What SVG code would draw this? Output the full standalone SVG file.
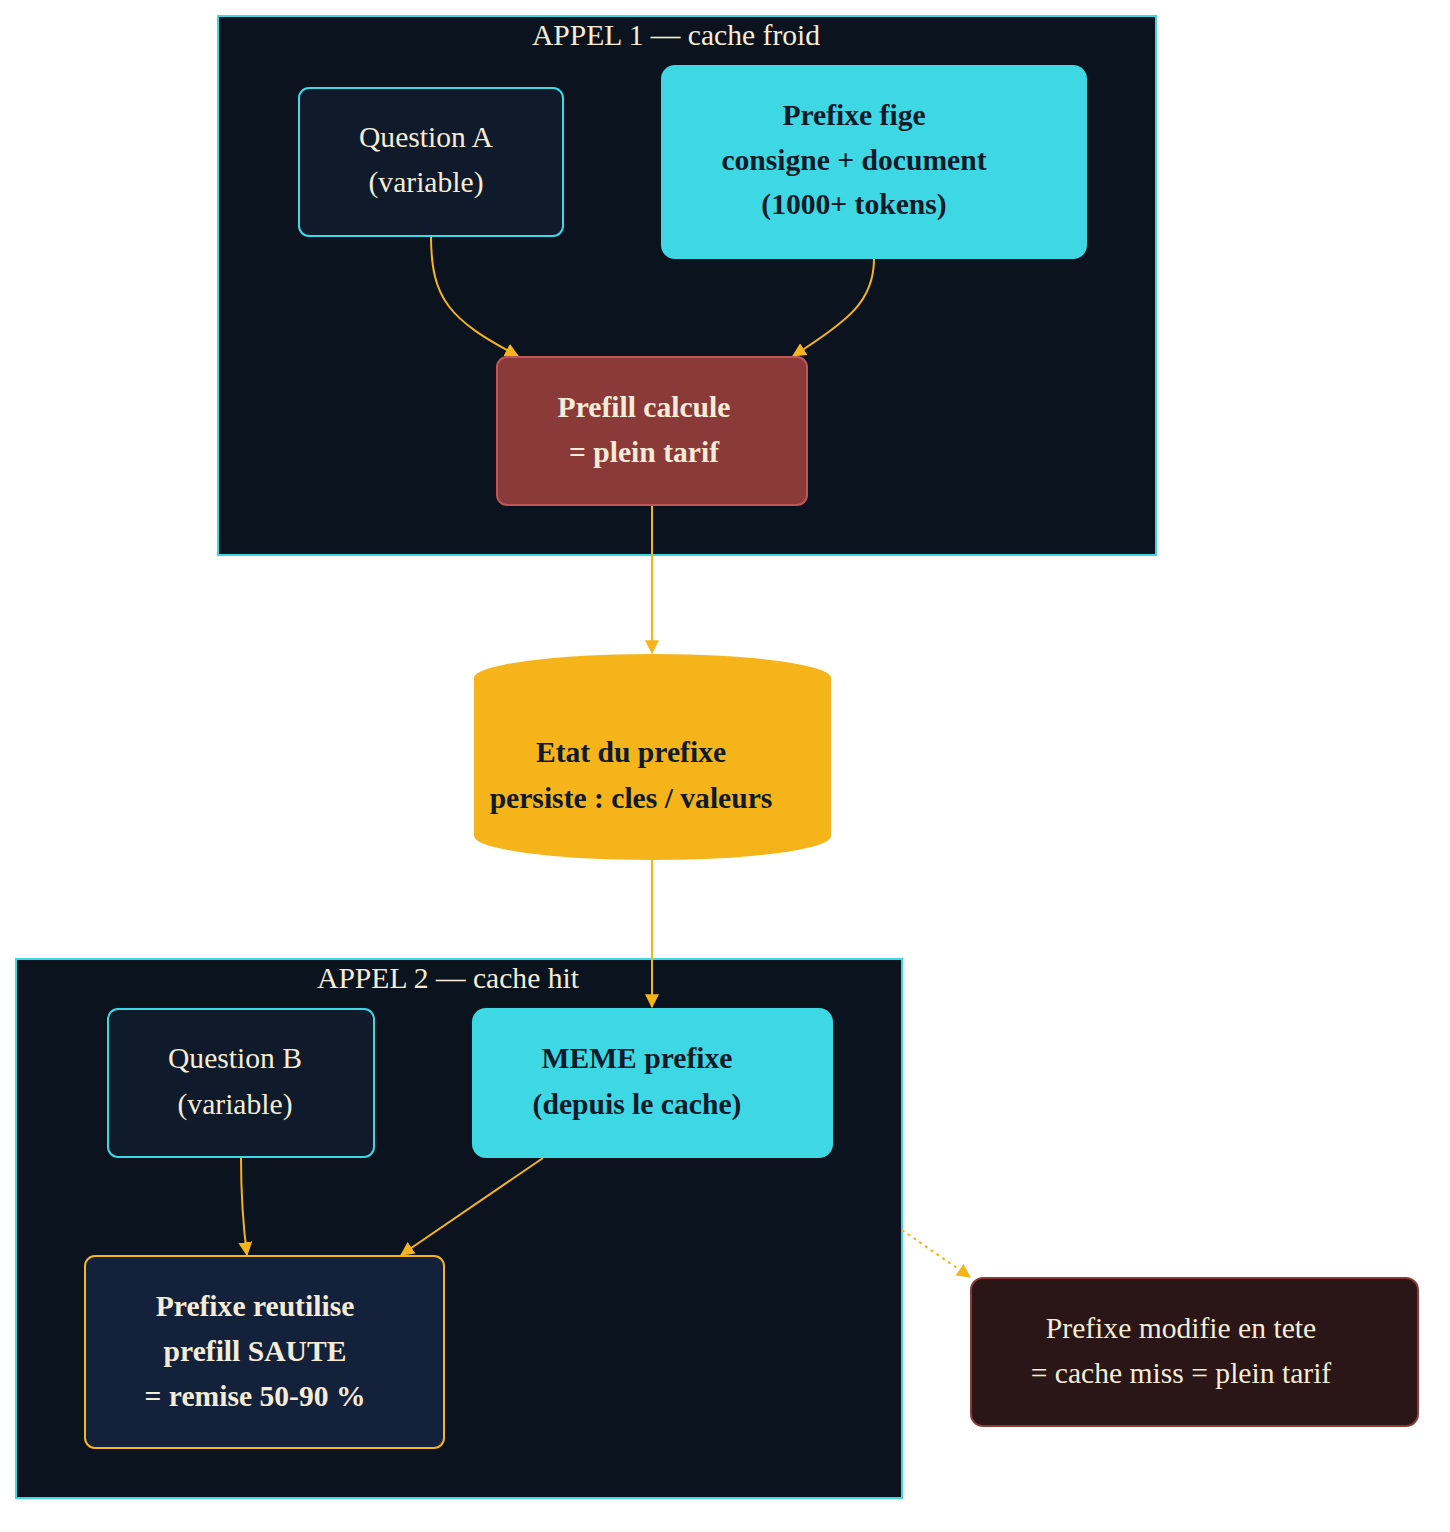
<svg xmlns="http://www.w3.org/2000/svg" width="1450" height="1532" viewBox="0 0 1450 1532">
<defs>
<style>
.cl{fill:#0b141e;stroke:#3dd8e3;stroke-width:2}
.ct{font-family:"Liberation Serif",serif;font-size:29.6px;fill:#f5ecd7;text-anchor:middle}
.t{font-family:"Liberation Serif",serif;font-size:29.6px;text-anchor:middle}
.b{font-weight:bold}
.lt{fill:#f5ecd7}
.dk{fill:#0f1a2a}
.e{fill:none;stroke:#f4b41a;stroke-width:2}
</style>
<marker id="a" viewBox="0 0 12 12" refX="11" refY="6" markerWidth="14" markerHeight="14" orient="auto" markerUnits="userSpaceOnUse">
<path d="M0,0 L12,6 L0,12 z" fill="#f4b41a"/>
</marker>
</defs>
<rect width="1450" height="1532" fill="#ffffff"/>
<g id="cluster1">
<rect class="cl" x="218" y="16" width="938" height="539"/>
<text class="ct" x="676" y="45">APPEL 1 — cache froid</text>
</g>
<g id="cluster2">
<rect class="cl" x="16" y="959" width="886" height="539"/>
<text class="ct" x="448" y="988">APPEL 2 — cache hit</text>
</g>
<g id="connectors">
<path class="e" d="M431,236 C431,300 450,320 518,356" marker-end="url(#a)"/>
<path class="e" d="M874,259 C874,300 850,320 793,356" marker-end="url(#a)"/>
<path class="e" d="M652,505 L652,653" marker-end="url(#a)"/>
<path class="e" d="M652,860 L652,1007" marker-end="url(#a)"/>
<path class="e" d="M241,1157 C241,1200 243,1225 247,1255" marker-end="url(#a)"/>
<path class="e" d="M543,1158 L401,1255" marker-end="url(#a)"/>
<path class="e" d="M902,1230 L970,1277" stroke-dasharray="3,4" marker-end="url(#a)"/>
</g>
<g id="questionA">
<rect x="299" y="88" width="264" height="148" rx="10" fill="#0f1a2a" stroke="#3dd8e3" stroke-width="2"/>
<text class="t lt" x="426" y="147">Question A</text>
<text class="t lt" x="426" y="192">(variable)</text>
</g>
<g id="prefixeFige">
<rect x="661" y="65" width="426" height="194" rx="14" fill="#3dd8e3"/>
<text class="t b dk" x="854" y="125">Prefixe fige</text>
<text class="t b dk" x="854" y="170">consigne + document</text>
<text class="t b dk" x="854" y="214">(1000+ tokens)</text>
</g>
<g id="prefill">
<rect x="497" y="357" width="310" height="148" rx="10" fill="#8b3a3a" stroke="#c05555" stroke-width="2"/>
<text class="t b lt" x="644" y="417">Prefill calcule</text>
<text class="t b lt" x="644" y="462">= plein tarif</text>
</g>
<g id="etat">
<path d="M474,678 A178.5,24 0 0 1 831,678 L831,836 A178.5,24 0 0 1 474,836 Z" fill="#f4b41a"/>
<text class="t b dk" x="631" y="762">Etat du prefixe</text>
<text class="t b dk" x="631" y="808">persiste : cles / valeurs</text>
</g>
<g id="questionB">
<rect x="108" y="1009" width="266" height="148" rx="10" fill="#0f1a2a" stroke="#3dd8e3" stroke-width="2"/>
<text class="t lt" x="235" y="1068">Question B</text>
<text class="t lt" x="235" y="1114">(variable)</text>
</g>
<g id="memePrefixe">
<rect x="472" y="1008" width="361" height="150" rx="14" fill="#3dd8e3"/>
<text class="t b dk" x="637" y="1068">MEME prefixe</text>
<text class="t b dk" x="637" y="1114">(depuis le cache)</text>
</g>
<g id="reutilise">
<rect x="85" y="1256" width="359" height="192" rx="10" fill="#14213a" stroke="#f4b41a" stroke-width="2"/>
<text class="t b lt" x="255" y="1316">Prefixe reutilise</text>
<text class="t b lt" x="255" y="1361">prefill SAUTE</text>
<text class="t b lt" x="255" y="1406">= remise 50-90 %</text>
</g>
<g id="modifie">
<rect x="971" y="1278" width="447" height="148" rx="12" fill="#2a1616" stroke="#8b3a3a" stroke-width="2"/>
<text class="t lt" x="1181" y="1338">Prefixe modifie en tete</text>
<text class="t lt" x="1181" y="1383">= cache miss = plein tarif</text>
</g>
</svg>
